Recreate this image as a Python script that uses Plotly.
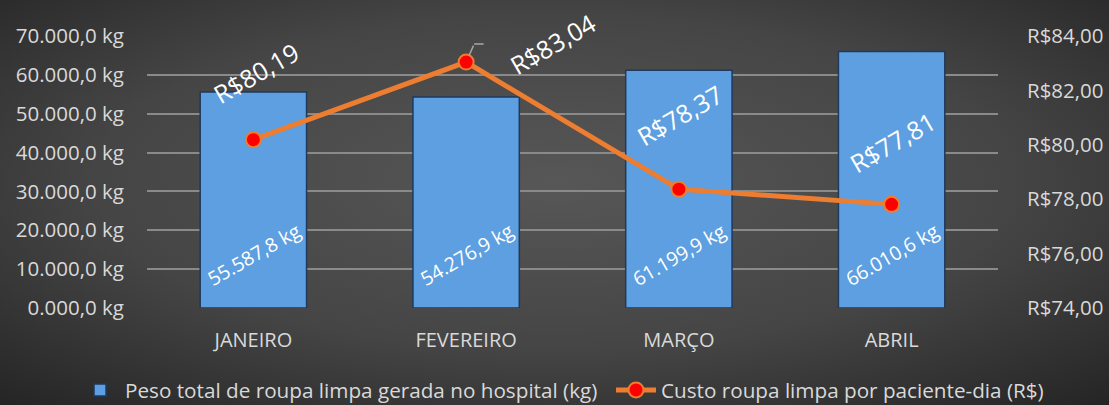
import base64
import plotly.graph_objects as go

months = ["JANEIRO", "FEVEREIRO", "MARÇO", "ABRIL"]
peso_kg = [55587.8, 54276.9, 61199.9, 66010.6]
peso_labels = ["55.587,8 kg", "54.276,9 kg", "61.199,9 kg", "66.010,6 kg"]
custo = [80.19, 83.04, 78.37, 77.81]
custo_labels = ["R$80,19", "R$83,04", "R$78,37", "R$77,81"]
left_tickvals = [0, 10000, 20000, 30000, 40000, 50000, 60000, 70000]
left_ticktext = ["0.000,0 kg", "10.000,0 kg", "20.000,0 kg", "30.000,0 kg",
                 "40.000,0 kg", "50.000,0 kg", "60.000,0 kg", "70.000,0 kg"]
right_tickvals = [74, 76, 78, 80, 82, 84]
right_ticktext = ["R$74,00", "R$76,00", "R$78,00", "R$80,00", "R$82,00", "R$84,00"]

W, H = 1109, 405
ML, MR, MT, MB = 147, 111, 36, 97
PW, PH = W - ML - MR, H - MT - MB

svg = f'''<svg xmlns="http://www.w3.org/2000/svg" width="{W}" height="{H}" viewBox="0 0 {W} {H}" preserveAspectRatio="none">
<defs><radialGradient id="g" cx="50%" cy="45%" r="75%" gradientUnits="objectBoundingBox">
<stop offset="0" stop-color="#575757"/><stop offset="0.55" stop-color="#454545"/><stop offset="1" stop-color="#242424"/>
</radialGradient></defs><rect width="{W}" height="{H}" fill="url(#g)"/></svg>'''
bg_src = "data:image/svg+xml;base64," + base64.b64encode(svg.encode()).decode()

TXT = "#d9d9d9"
FONT = "Open Sans"

fig = go.Figure()
fig.add_trace(go.Bar(
    x=months, y=peso_kg, name="Peso total de roupa limpa gerada no hospital (kg)",
    marker=dict(color="#5d9fe0", line=dict(color="#1e3a5c", width=1.5)),
    legend="legend",
))
fig.add_trace(go.Scatter(
    x=months, y=custo, yaxis="y2", mode="lines+markers",
    name="Custo roupa limpa por paciente-dia (R$)",
    line=dict(color="#ed7d31", width=5),
    marker=dict(color="#ff0000", size=15, line=dict(color="#ed7d31", width=2)),
    legend="legend2",
))

# bar data labels (anchored to the bar base)
for m, t in zip(months, peso_labels):
    fig.add_annotation(x=m, y=0, yref="y", text=t, showarrow=False,
                       textangle=-30, xanchor="center", yanchor="middle", yshift=54,
                       font=dict(color="white", size=19.5, family=FONT))

# line data labels
offsets = [(2, 67), (86, 18), (1, 74), (1, 62)]
for m, v, t, (dx, dy) in zip(months, custo, custo_labels, offsets):
    fig.add_annotation(x=m, y=v, yref="y2", text=t, showarrow=False,
                       textangle=-30, xanchor="center", yanchor="middle",
                       xshift=dx, yshift=dy,
                       font=dict(color="white", size=25, family=FONT))
# leader line for February label
fig.add_annotation(x=months[1], y=custo[1], yref="y2", text="", showarrow=True,
                   arrowhead=0, arrowwidth=1.5, arrowcolor="#a6a6a6",
                   ax=8, ay=-18, standoff=7)
fig.add_annotation(x=months[1], y=custo[1], yref="y2", text="", showarrow=True,
                   arrowhead=0, arrowwidth=1.5, arrowcolor="#a6a6a6",
                   ax=11, ay=0, standoff=0, xshift=8, yshift=18)

leg_y = -(390 - MT - PH) / PH
leg_common = dict(orientation="h", xanchor="left", xref="paper", yref="paper",
                  y=leg_y, yanchor="middle", font=dict(size=20.7, color=TXT),
                  bgcolor="rgba(0,0,0,0)", itemwidth=40, tracegroupgap=0)

fig.update_layout(
    width=W, height=H,
    margin=dict(l=ML, r=MR, t=MT, b=MB, pad=0, autoexpand=False),
    paper_bgcolor="#3c3c3c", plot_bgcolor="rgba(0,0,0,0)",
    font=dict(family=FONT, color=TXT, size=20),
    bargap=0.5,
    showlegend=True,
    legend=dict(x=(75 - ML) / PW, **leg_common),
    legend2=dict(x=(611 - ML) / PW, **leg_common),
    xaxis=dict(showgrid=False, showline=False, ticks="", tickfont=dict(size=20, color=TXT),
               ticklabelstandoff=18),
    yaxis=dict(range=[0, 70000], tickvals=left_tickvals, ticktext=left_ticktext,
               showgrid=True, gridcolor="#8a8a8a", gridwidth=1.5, zeroline=False,
               showline=False, ticks="", ticklabelstandoff=22,
               tickfont=dict(size=20.5, color=TXT)),
    yaxis2=dict(range=[74, 84], overlaying="y", side="right",
                tickvals=right_tickvals, ticktext=right_ticktext,
                showgrid=False, zeroline=False, showline=False, ticks="",
                ticklabelstandoff=28, tickfont=dict(size=20.5, color=TXT)),
    images=[dict(source=bg_src, xref="paper", yref="paper",
                 x=-ML / PW, y=1 + MT / PH, sizex=W / PW, sizey=H / PH,
                 xanchor="left", yanchor="top", sizing="stretch", layer="below")],
)

fig.write_html("out.html", config={"displayModeBar": False},
               post_script="document.body.style.margin='0';")
